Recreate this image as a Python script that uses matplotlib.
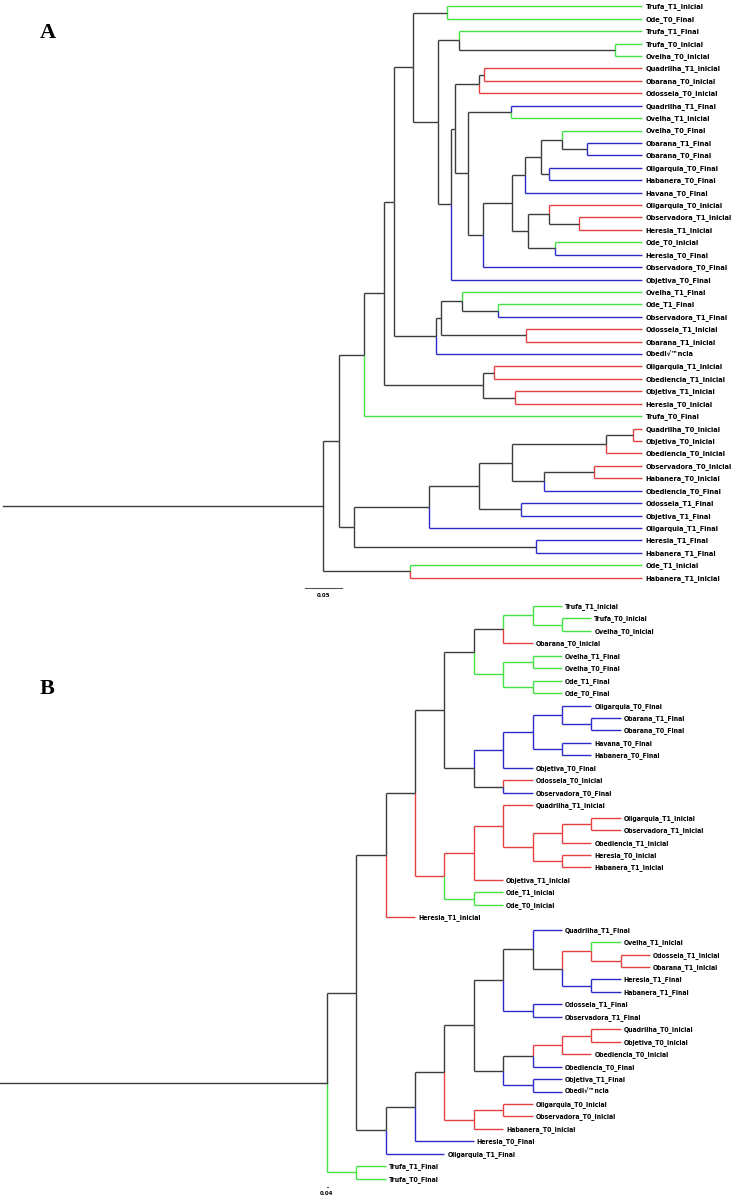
import matplotlib
matplotlib.use("Agg")
import matplotlib.pyplot as plt
from matplotlib import font_manager

# %% fonts -- narrow bold for tip labels if it is there
names = {f.name for f in font_manager.fontManager.ttflist}
if "Liberation Sans Narrow" in names:
    LABEL_FONT, LABEL_STRETCH = "Liberation Sans Narrow", "normal"
else:
    LABEL_FONT, LABEL_STRETCH = "DejaVu Sans", "condensed"

COLS = {"k": "#3c3c3c", "g": "#44e044", "r": "#e44040", "b": "#2a2ac8"}

# %% panel A: tips aligned, depths in substitutions/site from root edge start
a_leaves = [
    "Trufa_T1_Inicial", "Ode_T0_Final", "Trufa_T1_Final", "Trufa_T0_Inicial",
    "Ovelha_T0_Inicial", "Quadrilha_T1_Inicial", "Obarana_T0_Inicial",
    "Odosseia_T0_Inicial", "Quadrilha_T1_Final", "Ovelha_T1_Inicial",
    "Ovelha_T0_Final", "Obarana_T1_Final", "Obarana_T0_Final",
    "Oligarquia_T0_Final", "Habanera_T0_Final", "Havana_T0_Final",
    "Oligarquia_T0_Inicial", "Observadora_T1_Inicial", "Heresia_T1_Inicial",
    "Ode_T0_Inicial", "Heresia_T0_Final", "Observadora_T0_Final",
    "Objetiva_T0_Final", "Ovelha_T1_Final", "Ode_T1_Final",
    "Observadora_T1_Final", "Odosseia_T1_Inicial", "Obarana_T1_Inicial",
    "Obedi\u221a\u2122ncia", "Oligarquia_T1_Inicial", "Obediencia_T1_Inicial",
    "Objetiva_T1_Inicial", "Heresia_T0_Inicial", "Trufa_T0_Final",
    "Quadrilha_T0_Inicial", "Objetiva_T0_Inicial", "Obediencia_T0_Inicial",
    "Observadora_T0_Inicial", "Habanera_T0_Inicial", "Obediencia_T0_Final",
    "Odosseia_T1_Final", "Objetiva_T1_Final", "Oligarquia_T1_Final",
    "Heresia_T1_Final", "Habanera_T1_Final", "Ode_T1_Inicial",
    "Habanera_T1_Inicial",
]
a_leaf_cols = "gggggrrrbggbbbbbrrrgbbbggbrrbrrrrgrrrrrbbbbbbgr"
a_tip_depth = 0.870
# internal nodes: (id, child, child, depth, colour of branch above)
a_nodes = [
    ("a1", 0, 1, 0.6045, "k"), ("a2", 3, 4, 0.8338, "k"),
    ("a3", 2, "a2", 0.6213, "k"), ("a4", 5, 6, 0.6549, "k"),
    ("a5", "a4", 7, 0.6485, "k"), ("a6", 8, 9, 0.6921, "k"),
    ("a7", 11, 12, 0.7952, "k"), ("a8", 10, "a7", 0.7620, "k"),
    ("a9", 13, 14, 0.7443, "k"), ("a10", "a8", "a9", 0.7326, "k"),
    ("a11", "a10", 15, 0.7112, "k"), ("a12", 17, 18, 0.7851, "k"),
    ("a13", 16, "a12", 0.7443, "k"), ("a14", 19, 20, 0.7516, "k"),
    ("a15", "a13", "a14", 0.7149, "k"), ("a16", "a11", "a15", 0.6930, "k"),
    ("a17", "a16", 21, 0.6544, "k"), ("a18", "a6", "a17", 0.6331, "k"),
    ("a19", "a5", "a18", 0.6158, "k"), ("a20", "a19", 22, 0.6104, "k"),
    ("a21", "a3", "a20", 0.5931, "k"), ("a22", "a1", "a21", 0.5582, "k"),
    ("a23", 24, 25, 0.6748, "k"), ("a24", 23, "a23", 0.6249, "k"),
    ("a25", 26, 27, 0.7121, "k"), ("a26", "a24", "a25", 0.5971, "k"),
    ("a27", "a26", 28, 0.5895, "k"), ("a28", "a22", "a27", 0.5323, "k"),
    ("a29", 29, 30, 0.6693, "k"), ("a30", 31, 32, 0.6975, "k"),
    ("a31", "a29", "a30", 0.6535, "k"), ("a32", "a28", "a31", 0.5195, "k"),
    ("a33", "a32", 33, 0.4922, "k"), ("a34", 34, 35, 0.8579, "k"),
    ("a35", "a34", 36, 0.8211, "k"), ("a36", 37, 38, 0.8056, "k"),
    ("a37", "a36", 39, 0.7371, "k"), ("a38", "a35", "a37", 0.6939, "k"),
    ("a39", 40, 41, 0.7061, "k"), ("a40", "a38", "a39", 0.6489, "k"),
    ("a41", "a40", 42, 0.5808, "k"), ("a42", 43, 44, 0.7257, "k"),
    ("a43", "a41", "a42", 0.4782, "k"), ("a44", "a33", "a43", 0.4582, "k"),
    ("a45", 45, 46, 0.5545, "k"), ("a46", "a44", "a45", 0.4364, "k"),
]
a_root_start = 0.0

# %% panel B: cladogram, depth = node level
b_leaves = [
    "Trufa_T1_Inicial", "Trufa_T0_Inicial", "Ovelha_T0_Inicial",
    "Obarana_T0_Inicial", "Ovelha_T1_Final", "Ovelha_T0_Final",
    "Ode_T1_Final", "Ode_T0_Final", "Oligarquia_T0_Final",
    "Obarana_T1_Final", "Obarana_T0_Final", "Havana_T0_Final",
    "Habanera_T0_Final", "Objetiva_T0_Final", "Odosseia_T0_Inicial",
    "Observadora_T0_Final", "Quadrilha_T1_Inicial", "Oligarquia_T1_Inicial",
    "Observadora_T1_Inicial", "Obediencia_T1_Inicial", "Heresia_T0_Inicial",
    "Habanera_T1_Inicial", "Objetiva_T1_Inicial", "Ode_T1_Inicial",
    "Ode_T0_Inicial", "Heresia_T1_Inicial", "Quadrilha_T1_Final",
    "Ovelha_T1_Inicial", "Odosseia_T1_Inicial", "Obarana_T1_Inicial",
    "Heresia_T1_Final", "Habanera_T1_Final", "Odosseia_T1_Final",
    "Observadora_T1_Final", "Quadrilha_T0_Inicial", "Objetiva_T0_Inicial",
    "Obediencia_T0_Inicial", "Obediencia_T0_Final", "Objetiva_T1_Final",
    "Obedi\u221a\u2122ncia", "Oligarquia_T0_Inicial", "Observadora_T0_Inicial",
    "Habanera_T0_Inicial", "Heresia_T0_Final", "Oligarquia_T1_Final",
    "Trufa_T1_Final", "Trufa_T0_Final",
]
b_leaf_cols = "gggrggggbbbbbbrbrrrrrrrggrbgrrbbbbrrrbbbrrrbbgg"
b_leaf_depth = [8, 9, 9, 7, 8, 8, 8, 8, 9, 10, 10, 9, 9, 7, 7, 7, 7, 10, 10,
                9, 9, 9, 6, 6, 6, 3, 8, 10, 11, 11, 10, 10, 8, 8, 10, 10, 9,
                8, 8, 8, 7, 7, 6, 5, 4, 2, 2]
b_nodes = [
    ("b1", 1, 2, 8, "g"), ("b2", 0, "b1", 7, "g"), ("b3", "b2", 3, 6, "k"),
    ("b4", 4, 5, 7, "g"), ("b5", 6, 7, 7, "g"), ("b6", "b4", "b5", 6, "g"),
    ("b7", "b3", "b6", 5, "k"), ("b8", 9, 10, 9, "b"), ("b9", 8, "b8", 8, "b"),
    ("b10", 11, 12, 8, "b"), ("b11", "b9", "b10", 7, "b"),
    ("b12", "b11", 13, 6, "b"), ("b13", 14, 15, 6, "k"),
    ("b14", "b12", "b13", 5, "k"), ("b15", "b7", "b14", 4, "k"),
    ("b16", 17, 18, 9, "r"), ("b17", "b16", 19, 8, "r"),
    ("b18", 20, 21, 8, "r"), ("b19", "b17", "b18", 7, "r"),
    ("b20", 16, "b19", 6, "r"), ("b21", "b20", 22, 5, "r"),
    ("b22", 23, 24, 5, "g"), ("b23", "b21", "b22", 4, "r"),
    ("b24", "b15", "b23", 3, "k"), ("b25", "b24", 25, 2, "k"),
    ("b26", 28, 29, 10, "r"), ("b27", 27, "b26", 9, "r"),
    ("b28", 30, 31, 9, "b"), ("b29", "b27", "b28", 8, "k"),
    ("b30", 26, "b29", 7, "k"), ("b31", 32, 33, 7, "b"),
    ("b32", "b30", "b31", 6, "k"), ("b33", 34, 35, 9, "r"),
    ("b34", "b33", 36, 8, "r"), ("b35", "b34", 37, 7, "k"),
    ("b36", 38, 39, 7, "b"), ("b37", "b35", "b36", 6, "k"),
    ("b38", "b32", "b37", 5, "k"), ("b39", 40, 41, 6, "r"),
    ("b40", "b39", 42, 5, "r"), ("b41", "b38", "b40", 4, "k"),
    ("b42", "b41", 43, 3, "k"), ("b43", "b42", 44, 2, "k"),
    ("b44", "b25", "b43", 1, "k"), ("b45", 45, 46, 1, "g"),
    ("b46", "b44", "b45", 0, "k"),
]
b_root_start = -11.1

fig = plt.figure(figsize=(7.34, 12), dpi=100)

# size the tip labels from a probe string: ~85 px wide in A, ~80 px in B
renderer = fig.canvas.get_renderer()
probe = fig.text(0, 0, "Observadora_T1_Inicial", fontsize=10, fontweight="bold",
                 family=LABEL_FONT, fontstretch=LABEL_STRETCH)
probe_w = probe.get_window_extent(renderer).width
probe.remove()
SIZE_A = min(6.6, 10 * 85 / probe_w)
SIZE_B = min(6.2, 10 * 80 / probe_w)


def draw_tree(ax, leaves, leaf_cols, leaf_depth, nodes, root_start, label_dx, size):
    # position + colour lookup for every node (leaf or internal)
    pos = {i: (leaf_depth[i], float(i), leaf_cols[i]) for i in range(len(leaves))}
    for nid, c1, c2, d, col in nodes:
        pos[nid] = (d, (pos[c1][1] + pos[c2][1]) / 2, col)
    lw = 1.0
    for nid, c1, c2, d, col in nodes:
        y = pos[nid][1]
        for c in (c1, c2):
            cx, cy, ccol = pos[c]
            colour = COLS[ccol]
            ax.plot([d, d], [y, cy], color=colour, lw=lw, solid_capstyle="butt")
            ax.plot([d, cx], [cy, cy], color=colour, lw=lw, solid_capstyle="butt")
    rx, ry, rcol = pos[nodes[-1][0]]
    ax.plot([root_start, rx], [ry, ry], color=COLS[rcol], lw=lw)
    for i, name in enumerate(leaves):
        ax.annotate(name, (leaf_depth[i], i), xytext=(label_dx, -0.5),
                    textcoords="offset pixels", va="center", ha="left",
                    fontsize=size, fontweight="bold", family=LABEL_FONT,
                    fontstretch=LABEL_STRETCH)


# %% panel A
axA = fig.add_axes([0, 0.5, 1, 0.5])
draw_tree(axA, a_leaves, a_leaf_cols, [a_tip_depth] * len(a_leaves), a_nodes,
          a_root_start, 4, SIZE_A)
axA.set_xlim(-3 / 734, 731 / 734)
axA.set_ylim(47.8, -0.507)
axA.plot([0.4114, 0.4614], [46.8, 46.8], color="#555555", lw=0.8)
axA.text(0.4364, 47.45, "0.05", ha="center", va="center", fontsize=4.0,
         fontweight="bold", family=LABEL_FONT)
axA.text(0.061, 2.15, "A", ha="center", va="center", fontsize=16,
         fontweight="bold", family="Liberation Serif")
axA.axis("off")

# %% panel B
axB = fig.add_axes([0, 0, 1, 0.5])
draw_tree(axB, b_leaves, b_leaf_cols, b_leaf_depth, b_nodes, b_root_start, 3,
          SIZE_B)
axB.set_xlim(-326.7 / 29.4, (734 - 326.7) / 29.4)
axB.set_ylim(47.71, -0.48)
axB.plot([0, 0.04], [46.7, 46.7], color="#555555", lw=0.8)
axB.text(0, 47.2, "0.04", ha="center", va="center", fontsize=4.0,
         fontweight="bold", family=LABEL_FONT)
axB.text(-9.5, 6.7, "B", ha="center", va="center", fontsize=16,
         fontweight="bold", family="Liberation Serif")
axB.axis("off")

fig.savefig("out.png", dpi=100)
